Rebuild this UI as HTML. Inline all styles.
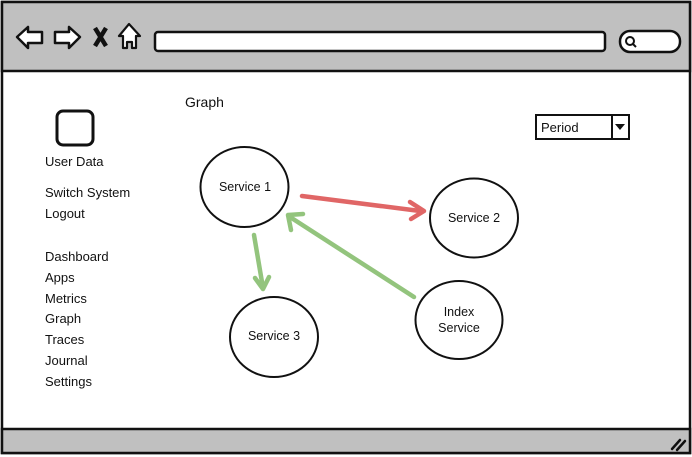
<!DOCTYPE html>
<html><head><meta charset="utf-8"><style>
html,body{margin:0;padding:0;background:#fff;}
svg{display:block;}
text{font-family:"Liberation Sans",sans-serif;fill:#111;}
</style></head><body>
<svg width="692" height="457" viewBox="0 0 692 457" xmlns="http://www.w3.org/2000/svg">
<rect x="2" y="2" width="688" height="451" fill="#fff" stroke="#111" stroke-width="2.5"/>
<rect x="2" y="2" width="688" height="69" fill="#c0c0c0" stroke="#111" stroke-width="2.5"/>
<rect x="2" y="429" width="688" height="24" fill="#c0c0c0" stroke="#111" stroke-width="2.5"/>
<path d="M672 449 L680 440 M677 450 L685 441" stroke="#111" stroke-width="2.5" stroke-linecap="round"/>
<!-- back -->
<path d="M17 37 L28 27 L28 32 L42 32 L42 43 L28 43 L28 48 Z" fill="#fff" stroke="#111" stroke-width="2.5" stroke-linejoin="round"/>
<path d="M80 37 L69 27 L69 32 L55 32 L55 43 L69 43 L69 48 Z" fill="#fff" stroke="#111" stroke-width="2.5" stroke-linejoin="round"/>
<path d="M95 28 L106 46 M106 28 L95 46" stroke="#111" stroke-width="4.5"/>
<path d="M129 24 L119 36 L123 36 L123 48 L127 48 L127 42 L132 42 L132 48 L136 48 L136 36 L140 36 Z" fill="#fff" stroke="#111" stroke-width="2.2" stroke-linejoin="round"/>
<rect x="155" y="32" width="450" height="19" rx="3" fill="#fff" stroke="#111" stroke-width="2.5"/>
<rect x="620" y="31" width="60" height="21" rx="10" fill="#fff" stroke="#111" stroke-width="2.5"/>
<circle cx="630" cy="41" r="4" fill="none" stroke="#111" stroke-width="2"/>
<path d="M633 44 L636 47" stroke="#111" stroke-width="2"/>
<!-- sidebar -->
<rect x="57" y="111" width="36" height="34" rx="6" fill="#fff" stroke="#111" stroke-width="3"/>
<g font-size="13">
<text x="45" y="166">User Data</text>
<text x="45" y="197">Switch System</text>
<text x="45" y="218">Logout</text>
<text x="45" y="261">Dashboard</text>
<text x="45" y="282">Apps</text>
<text x="45" y="303">Metrics</text>
<text x="45" y="323">Graph</text>
<text x="45" y="344">Traces</text>
<text x="45" y="365">Journal</text>
<text x="45" y="386">Settings</text>
</g>
<text x="185" y="107" font-size="14">Graph</text>
<rect x="536" y="115" width="93" height="24" fill="#fff" stroke="#111" stroke-width="2"/>
<line x1="612" y1="115" x2="612" y2="139" stroke="#111" stroke-width="2"/>
<path d="M615 124 L625 124 L620 130 Z" fill="#111"/>
<text x="541" y="132" font-size="13">Period</text>
<!-- arrows -->
<g stroke-linecap="round" stroke-width="4.5" fill="none">
<path d="M302 196 L420 211" stroke="#e06666"/>
<path d="M410 202 L424 211 L411 219" stroke="#e06666" stroke-linejoin="round"/>
<path d="M254 235 L263 288" stroke="#93c47d"/>
<path d="M255 278 L263 289 L269 277" stroke="#93c47d" stroke-linejoin="round"/>
<path d="M414 297 L290 217" stroke="#93c47d"/>
<path d="M291 230 L288 215 L303 214" stroke="#93c47d" stroke-linejoin="round"/>
</g>
<!-- nodes -->
<g fill="#fff" stroke="#111" stroke-width="2">
<ellipse cx="244.5" cy="187" rx="44" ry="40"/>
<ellipse cx="474" cy="218" rx="44" ry="39.5"/>
<ellipse cx="274" cy="337" rx="44" ry="40"/>
<ellipse cx="459" cy="320" rx="43.5" ry="39"/>
</g>
<g font-size="12.5" text-anchor="middle">
<text x="245" y="191">Service 1</text>
<text x="474" y="222">Service 2</text>
<text x="274" y="340">Service 3</text>
<text x="459" y="316">Index</text>
<text x="459" y="332">Service</text>
</g>
</svg>
</body></html>
